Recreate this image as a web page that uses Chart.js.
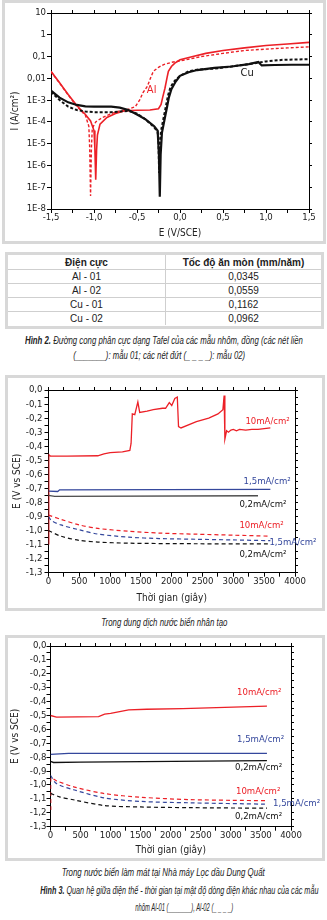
<!DOCTYPE html>
<html>
<head>
<meta charset="utf-8">
<script src="https://cdn.jsdelivr.net/npm/chart.js@4.4.0/dist/chart.umd.min.js"></script>
<style>
body { margin: 0; width: 327px; height: 920px; background: #fff; position: relative; overflow: hidden; }
.frame { position: absolute; border: 3px solid #d8d8d8; box-sizing: border-box; }
canvas { position: absolute; display: block; }
.cap { position: absolute; white-space: nowrap; font: italic 11px "Liberation Sans", Arial, sans-serif; line-height: 13px; color: #222; transform-origin: 50% 50%; }
.cap b { font-weight: bold; }
#tbl { position: absolute; left: 8px; top: 255px; width: 313px; border-collapse: collapse; table-layout: fixed;
       font-family: "Liberation Sans", Arial, sans-serif; font-size: 10px; color: #222; }
#tbl td, #tbl th { padding: 0; text-align: center; border-bottom: 1px solid #cfcfcf; height: 13px; line-height: 13px; }
#tbl th { height: 14px; font-weight: bold; }
#tbl td:first-child, #tbl th:first-child { border-right: 1px solid #cfcfcf; width: 157px; }
#tbl tr:last-child td { border-bottom: none; }
</style>
</head>
<body>
<div class="frame" style="left:2px;top:0;width:324px;height:244px"></div>
<canvas id="tafel" width="318" height="238" style="left:5px;top:3px"></canvas>

<div class="frame" style="left:5px;top:252px;width:319px;height:77px"></div>
<table id="tbl"></table>

<div class="frame" style="left:5px;top:375px;width:320px;height:236px"></div>
<canvas id="artificial" width="314" height="229" style="left:8px;top:378px"></canvas>

<div class="frame" style="left:5px;top:635px;width:320px;height:226px"></div>
<canvas id="dungquat" width="314" height="220" style="left:8px;top:638px"></canvas>

<script>
// ---- Hình 2: Tafel curves (E in V/SCE, I in A/cm2) ----
var al01E = [-1.5, -1.4, -1.3, -1.2, -1.1, -1.04, -1.0, -0.99, -0.98, -0.97, -0.96, -0.93, -0.85, -0.75, -0.65, -0.5, -0.35, -0.25, -0.22, -0.2, -0.175, -0.15, -0.135, -0.1, -0.06, 0, 0.15, 0.3, 0.5, 0.75, 1.0, 1.25, 1.5];
var al01I = [2.1e-2, 6.3e-3, 1.8e-3, 5.6e-4, 2.2e-4, 1.1e-4, 4.0e-5, 6.3e-6, 2.2e-7, 5.0e-6, 2.5e-5, 7.9e-5, 1.6e-4, 2.4e-4, 3.2e-4, 3.4e-4, 3.5e-4, 4.0e-4, 6.3e-4, 1.4e-3, 3.5e-3, 1.1e-2, 2.1e-2, 3.5e-2, 5.0e-2, 7.1e-2, 0.10, 0.14, 0.19, 0.25, 0.32, 0.38, 0.45];
var al02E = [-1.5, -1.4, -1.3, -1.2, -1.1, -1.06, -1.05, -1.04, -1.03, -1.02, -0.98, -0.9, -0.8, -0.7, -0.6, -0.52, -0.47, -0.43, -0.38, -0.34, -0.31, -0.25, -0.19, -0.1, 0, 0.25, 0.5, 0.75, 1.0, 1.25, 1.5];
var al02I = [2.0e-2, 6.0e-3, 1.7e-3, 5.2e-4, 2.0e-4, 6.3e-5, 6.3e-6, 4.0e-8, 6.3e-6, 5.0e-5, 1.0e-4, 1.6e-4, 2.4e-4, 3.2e-4, 3.8e-4, 5.0e-4, 1.0e-3, 2.2e-3, 4.3e-3, 1.1e-2, 2.1e-2, 3.2e-2, 4.3e-2, 5.4e-2, 6.3e-2, 0.10, 0.14, 0.19, 0.22, 0.25, 0.28];
var cu01E = [-1.5, -1.4, -1.3, -1.2, -1.1, -1.0, -0.9, -0.8, -0.7, -0.6, -0.5, -0.4, -0.3, -0.26, -0.245, -0.235, -0.225, -0.21, -0.19, -0.17, -0.15, -0.13, -0.1, -0.05, 0, 0.1, 0.2, 0.4, 0.6, 0.8, 0.91, 0.95, 1.1, 1.3, 1.5];
var cu01I = [2.7e-3, 1.3e-3, 7.9e-4, 6.0e-4, 5.2e-4, 5.0e-4, 5.0e-4, 5.0e-4, 4.5e-4, 3.5e-4, 2.2e-4, 1.3e-4, 6.3e-5, 4.0e-5, 3.2e-6, 3.7e-8, 3.2e-6, 3.2e-5, 7.9e-5, 2.0e-4, 5.0e-4, 1.3e-3, 3.2e-3, 7.1e-3, 1.3e-2, 1.9e-2, 2.4e-2, 3.0e-2, 3.5e-2, 4.5e-2, 5.6e-2, 3.9e-2, 4.1e-2, 4.2e-2, 4.2e-2];
var cu02E = [-1.5, -1.4, -1.3, -1.2, -1.1, -1.0, -0.9, -0.8, -0.7, -0.6, -0.5, -0.4, -0.3, -0.26, -0.25, -0.243, -0.235, -0.22, -0.2, -0.18, -0.16, -0.14, -0.11, -0.06, 0, 0.1, 0.2, 0.4, 0.6, 0.8, 1.0, 1.2, 1.5];
var cu02I = [2.4e-3, 1.0e-3, 5.0e-4, 3.5e-4, 3.0e-4, 2.8e-4, 2.8e-4, 2.8e-4, 3.0e-4, 3.2e-4, 2.4e-4, 1.3e-4, 5.6e-5, 3.5e-5, 1.0e-5, 4.5e-7, 1.0e-5, 4.0e-5, 1.0e-4, 2.5e-4, 6.3e-4, 1.6e-3, 4.0e-3, 7.9e-3, 1.3e-2, 2.1e-2, 2.5e-2, 2.8e-2, 3.5e-2, 4.5e-2, 6.0e-2, 7.1e-2, 7.6e-2];

var eTickLabels = ['-1,5', '-1,0', '-0,5', '0,0', '0,5', '1,0', '1,5'];
var iTickValues = [1e-8, 1e-7, 1e-6, 1e-5, 1e-4, 1e-3, 1e-2, 1e-1, 1, 10];
var iTickLabels = ['1E-8', '1E-7', '1E-6', '1E-5', '1E-4', '1E-3', '0,01', '0,1', '1', '10'];
var tafelLabelText = ['Al', 'Cu'];
var tafelLabelE = [-0.33, 0.78];
var tafelLabelI = [2.9e-3, 1.8e-2];

// ---- table ----
var electrodes = ['Al - 01', 'Al - 02', 'Cu - 01', 'Cu - 02'];
var corrosionRates = ['0,0345', '0,0559', '0,1162', '0,0962'];

// ---- Hình 3a: artificial seawater (t in s, E in V vs SCE) ----
var art10T = [5, 5, 30, 300, 800, 900, 1000, 1200, 1320, 1340, 1360, 1400, 1450, 1480, 1600, 1700, 1850, 1900, 1960, 2000, 2050, 2090, 2110, 2150, 2400, 2600, 2750, 2830, 2850, 2862, 2890, 2920, 2960, 3000, 3050, 3100, 3200, 3300, 3400, 3500, 3600];
var art10E = [-1.1, -0.46, -0.47, -0.47, -0.468, -0.455, -0.445, -0.44, -0.43, -0.38, -0.17, -0.175, -0.085, -0.16, -0.15, -0.14, -0.13, -0.13, -0.09, -0.11, -0.06, -0.05, -0.26, -0.27, -0.225, -0.2, -0.17, -0.14, -0.04, -0.35, -0.29, -0.3, -0.285, -0.28, -0.29, -0.28, -0.285, -0.28, -0.28, -0.275, -0.27];
var art15T = [0, 150, 180, 3600];
var art15E = [-0.72, -0.722, -0.71, -0.707];
var art02T = [0, 100, 3400];
var art02E = [-0.75, -0.757, -0.752];
var art10dT = [0, 200, 500, 800, 1300, 1800, 2400, 3000, 3600];
var art10dE = [-0.89, -0.92, -0.96, -0.985, -1.005, -1.018, -1.026, -1.033, -1.04];
var art15dT = [0, 50, 200, 500, 800, 1300, 1800, 2400, 3000, 3600];
var art15dE = [-0.9, -0.93, -0.96, -0.995, -1.025, -1.047, -1.057, -1.062, -1.067, -1.072];
var art02dT = [0, 200, 500, 800, 1300, 2400, 3600];
var art02dE = [-1.0, -1.04, -1.07, -1.082, -1.09, -1.094, -1.095];

// ---- Hình 3b: cooling seawater, Dung Quất ----
var dq10T = [0, 100, 800, 900, 1000, 1150, 1300, 1600, 2200, 2900, 3600];
var dq10E = [-0.5, -0.512, -0.508, -0.49, -0.485, -0.472, -0.46, -0.455, -0.45, -0.442, -0.432];
var dq15T = [0, 300, 3600];
var dq15E = [-0.78, -0.773, -0.772];
var dq02T = [0, 50, 500, 3600];
var dq02E = [-0.83, -0.838, -0.836, -0.825];
var dq10dT = [5, 5, 100, 400, 900, 1500, 2300, 3000, 3600];
var dq10dE = [-1.18, -0.95, -0.97, -1.015, -1.062, -1.088, -1.105, -1.11, -1.113];
var dq15dT = [0, 100, 400, 900, 1500, 2300, 3600];
var dq15dE = [-0.93, -0.99, -1.036, -1.093, -1.118, -1.128, -1.138];
var dq02dT = [0, 150, 400, 900, 1500, 2300, 3600];
var dq02dE = [-1.06, -1.085, -1.108, -1.148, -1.158, -1.163, -1.167];

var timeTickLabels = ['0', '500', '1000', '1500', '2000', '2500', '3000', '3500', '4000'];
var potTickLabels = ['0,0', '-0,1', '-0,2', '-0,3', '-0,4', '-0,5', '-0,6', '-0,7', '-0,8', '-0,9', '-1,0', '-1,1', '-1,2', '-1,3'];
var densityText = ['10mA/cm²', '1,5mA/cm²', '0,2mA/cm²', '10mA/cm²', '1,5mA/cm²', '0,2mA/cm²'];
var artLabelT = [3195, 3166, 3098, 3098, 3585, 3098];
var artLabelE = [-0.225, -0.652, -0.817, -0.967, -1.085, -1.173];
var dqLabelT = [3102, 3102, 3069, 3085, 3701, 3069];
var dqLabelE = [-0.338, -0.676, -0.871, -1.05, -1.13, -1.23];

var RED = '#ec2027', BLUE = '#34479c', BLACK = '#111', GREY = '#4d4d4d';
var labelColors = [RED, BLUE, BLACK, RED, BLUE, BLACK];

var narrow = '"DejaVu Sans Condensed", "Liberation Sans", sans-serif';
var tickFont = { family: narrow, size: 9.5, lineHeight: 1 };
var titleFont = { family: narrow, size: 10, lineHeight: 1.2 };

function pts(xs, ys) { return xs.map(function (x, i) { return { x: x, y: ys[i] }; }); }
function line(label, xs, ys, color, dash, width, tension) {
    return { label: label, data: pts(xs, ys), borderColor: color, borderWidth: width, borderDash: dash || [],
             pointRadius: 0, tension: tension || 0, fill: false };
}

var curveLabels = {
    id: 'curveLabels',
    afterDatasetsDraw: function (chart, args, opts) {
        var ctx = chart.ctx, xs = chart.scales.x, ys = chart.scales.y;
        ctx.save();
        ctx.font = opts.font;
        ctx.textBaseline = 'middle';
        ctx.textAlign = opts.align;
        opts.text.forEach(function (t, i) {
            ctx.fillStyle = opts.colors[i];
            ctx.fillText(t, xs.getPixelForValue(opts.xs[i]), ys.getPixelForValue(opts.ys[i]));
        });
        ctx.restore();
    }
};

// every panel: bottom/left labelled axes + bare top/right axes closing the box
function boxScales(c) {
    var axisLine = { color: '#000', width: 1 };
    var xCb = function (v) {
        var k = Math.round((v - c.xMin) / c.xLabelStep);
        return Math.abs(v - (c.xMin + k * c.xLabelStep)) < 1e-6 ? c.xLabels[k] : '';
    };
    var s = {
        x: { type: 'linear', position: 'bottom', min: c.xMin, max: c.xMax,
             afterFit: function (sc) { sc.height = c.xH; },
             ticks: { stepSize: c.xStep, autoSkip: false, maxRotation: 0, padding: c.xTickPad, color: '#222', font: tickFont, callback: xCb },
             grid: { drawOnChartArea: false, tickLength: 4, tickColor: '#000' },
             border: axisLine,
             title: { display: true, text: c.xTitle, color: '#222', font: titleFont, padding: { top: 0, bottom: c.xTitlePad } } },
        x2: { type: 'linear', position: 'top', min: c.xMin, max: c.xMax,
              afterFit: function (sc) { sc.height = 4; },
              ticks: { display: false, stepSize: c.xStep, autoSkip: false },
              grid: { drawOnChartArea: false, tickLength: 3, tickColor: '#000' },
              border: axisLine },
        y: { type: c.yType, position: 'left', min: c.yMin, max: c.yMax,
             afterFit: function (sc) { sc.width = c.yW; },
             ticks: { autoSkip: false, padding: c.yTickPad, color: '#222', font: tickFont, callback: c.yCb },
             grid: { drawOnChartArea: false, tickLength: 4, tickColor: '#000' },
             border: axisLine,
             title: { display: true, text: c.yTitle, color: '#222', font: titleFont, padding: { top: c.yTitlePad, bottom: 0 } } },
        y2: { type: c.yType, position: 'right', min: c.yMin, max: c.yMax,
              afterFit: function (sc) { sc.width = 4; },
              ticks: { display: false, autoSkip: false },
              grid: { drawOnChartArea: false, tickLength: 3, tickColor: '#000' },
              border: axisLine }
    };
    if (c.yStep) { s.y.ticks.stepSize = c.yStep; s.y2.ticks.stepSize = c.yStep; }
    if (c.yTicks) {
        var build = function (sc) { sc.ticks = c.yTicks.map(function (v) { return { value: v }; }); };
        s.y.afterBuildTicks = build;
        s.y2.afterBuildTicks = build;
    }
    return s;
}

function baseOptions(scales, pad, labels) {
    return {
        responsive: false, animation: false, devicePixelRatio: 1,
        layout: { padding: pad },
        plugins: { legend: { display: false }, tooltip: { enabled: false }, curveLabels: labels },
        scales: scales
    };
}

var potCb = function (v) {
    var k = Math.round(-v * 20);
    return k % 2 === 0 ? potTickLabels[k / 2] : '';
};

// Tafel chart
new Chart(document.getElementById('tafel'), {
    type: 'line',
    data: { datasets: [
        line('Cu - 02', cu02E, cu02I, BLACK, [3, 2], 2),
        line('Cu - 01', cu01E, cu01I, BLACK, [], 2.2),
        line('Al - 02', al02E, al02I, RED, [3, 2], 1.4),
        line('Al - 01', al01E, al01I, RED, [], 1.6)
    ] },
    options: baseOptions(boxScales({
        xMin: -1.5, xMax: 1.5, xStep: 0.25, xLabelStep: 0.5, xLabels: eTickLabels, xH: 32, xTickPad: 0, xTitle: 'E (V/SCE)', xTitlePad: 2,
        yType: 'logarithmic', yMin: 1e-8, yMax: 10, yTicks: iTickValues, yW: 46, yTickPad: 1, yTitle: 'I (A/cm²)', yTitlePad: 4,
        yCb: function (v, i) { return iTickLabels[i]; }
    }), { left: 0, top: 6, right: 10, bottom: 0 }, {
        text: tafelLabelText, xs: tafelLabelE, ys: tafelLabelI, colors: [RED, BLACK], font: '11px ' + narrow, align: 'center'
    }),
    plugins: [curveLabels]
});

// Artificial seawater
new Chart(document.getElementById('artificial'), {
    type: 'line',
    data: { datasets: [
        line('0,2 dashed', art02dT, art02dE, BLACK, [4, 3], 1.2, 0.3),
        line('1,5 dashed', art15dT, art15dE, BLUE, [4, 3], 1.2, 0.3),
        line('10 dashed', art10dT, art10dE, RED, [4, 3], 1.2, 0.3),
        line('0,2', art02T, art02E, GREY, [], 1.4),
        line('1,5', art15T, art15E, BLUE, [], 1.3),
        line('10', art10T, art10E, RED, [], 1.3)
    ] },
    options: baseOptions(boxScales({
        xMin: 0, xMax: 4000, xStep: 250, xLabelStep: 500, xLabels: timeTickLabels, xH: 34.3, xTickPad: 0, xTitle: 'Thời gian (giây)', xTitlePad: 3,
        yType: 'linear', yMin: -1.3, yMax: 0, yStep: 0.05, yW: 40.5, yTickPad: 2, yTitle: 'E (V vs SCE)', yTitlePad: 3, yCb: potCb
    }), { left: 0, top: 8, right: 23, bottom: 0 }, {
        text: densityText, xs: artLabelT, ys: artLabelE, colors: labelColors, font: '9.5px ' + narrow, align: 'left'
    }),
    plugins: [curveLabels]
});

// Dung Quat cooling seawater
new Chart(document.getElementById('dungquat'), {
    type: 'line',
    data: { datasets: [
        line('0,2 dashed', dq02dT, dq02dE, BLACK, [4, 3], 1.2, 0.3),
        line('1,5 dashed', dq15dT, dq15dE, BLUE, [4, 3], 1.2, 0.3),
        line('10 dashed', dq10dT, dq10dE, RED, [4, 3], 1.2, 0.3),
        line('0,2', dq02T, dq02E, BLACK, [], 1.3),
        line('1,5', dq15T, dq15E, BLUE, [], 1.3),
        line('10', dq10T, dq10E, RED, [], 1.3)
    ] },
    options: baseOptions(boxScales({
        xMin: 0, xMax: 4000, xStep: 250, xLabelStep: 500, xLabels: timeTickLabels, xH: 31.3, xTickPad: 0, xTitle: 'Thời gian (giây)', xTitlePad: 2,
        yType: 'linear', yMin: -1.3, yMax: 0, yStep: 0.05, yW: 42.5, yTickPad: 0, yTitle: 'E (V vs SCE)', yTitlePad: 1, yCb: potCb
    }), { left: 0, top: 4, right: 27, bottom: 0 }, {
        text: densityText, xs: dqLabelT, ys: dqLabelE, colors: labelColors, font: '9.5px ' + narrow, align: 'left'
    }),
    plugins: [curveLabels]
});

// table
var tbl = document.getElementById('tbl');
var html = '<tr><th>Điện cực</th><th>Tốc độ ăn mòn (mm/năm)</th></tr>';
electrodes.forEach(function (e, i) { html += '<tr><td>' + e + '</td><td>' + corrosionRates[i] + '</td></tr>'; });
tbl.innerHTML = html;

// captions, squeezed to the condensed width of the original
var captions = [
    { html: '<b>Hình 2.</b> Đường cong phân cực dạng Tafel của các mẫu nhôm, đồng (các nét liền', cx: 164, cy: 340, w: 278 },
    { html: '(_______): mẫu 01; các nét đứt (_ _ _ _): mẫu 02)', cx: 159, cy: 355, w: 172 },
    { html: 'Trong dung dịch nước biển nhân tạo', cx: 164.5, cy: 622, w: 126 },
    { html: 'Trong nước biển làm mát tại Nhà máy Lọc dầu Dung Quất', cx: 163, cy: 872, w: 203 },
    { html: '<b>Hình 3.</b> Quan hệ giữa điện thế - thời gian tại mật độ dòng điện khác nhau của các mẫu', cx: 179, cy: 890, w: 278 },
    { html: 'nhôm Al-01 (_______), Al-02 (_ _ _ _)', cx: 184, cy: 907, w: 98 }
];
captions.forEach(function (c) {
    var el = document.createElement('div');
    el.className = 'cap';
    el.innerHTML = c.html;
    document.body.appendChild(el);
    var r = el.getBoundingClientRect();
    el.style.left = (c.cx - r.width / 2) + 'px';
    el.style.top = (c.cy - r.height / 2) + 'px';
    el.style.transform = 'scaleX(' + (c.w / r.width).toFixed(3) + ')';
});
</script>
</body>
</html>
